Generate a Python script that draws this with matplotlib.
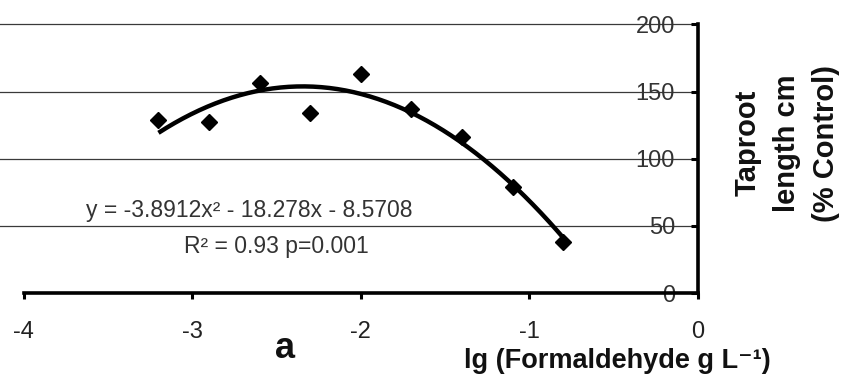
import numpy as np
import matplotlib
matplotlib.use("Agg")
import matplotlib.pyplot as plt

plt.rcParams['font.family'] = ['Liberation Sans', 'DejaVu Sans']

# Data
log_conc = [-3.2, -2.9, -2.6, -2.3, -2.0, -1.7, -1.4, -1.1, -0.8]
taproot_pct = [129, 127, 156, 134, 163, 137, 116, 79, 38]
x_ticks = [-4, -3, -2, -1, 0]
x_ticklabels = ['-4', '-3', '-2', '-1', '0']
y_ticks = [0, 50, 100, 150, 200]
y_ticklabels = ['0', '50', '100', '150', '200']
equation_text = "y = -3.8912x\u00b2 - 18.278x - 8.5708"
r2_text = "R\u00b2 = 0.93 p=0.001"

W, H = 842, 374
fig = plt.figure(figsize=(W / 100, H / 100), dpi=100)
fig.patch.set_facecolor('white')

def fx(px):
    return px / W

def fy(py):
    return 1 - py / H

ax = fig.add_axes([0, fy(293), fx(698), fy(23) - fy(293)])
ax.set_xlim(-4.14, 0)
ax.set_ylim(0, 201)

# gridlines
for yv in y_ticks[1:]:
    ax.axhline(yv, color='#3a3a3a', lw=0.9, zorder=1)

# quadratic trendline fitted to the data (as in the spreadsheet)
coef = np.polyfit(log_conc, taproot_pct, 2)
xs = np.linspace(min(log_conc), max(log_conc), 200)
ax.plot(xs, np.polyval(coef, xs), color='black', lw=3.2, zorder=3,
        solid_capstyle='butt')
ax.plot(log_conc, taproot_pct, linestyle='none', marker='D', markersize=8.5,
        color='black', zorder=4)

# spines
for s in ['left', 'top']:
    ax.spines[s].set_visible(False)
ax.spines['bottom'].set_linewidth(2.6)
ax.spines['bottom'].set_bounds(-4, 0)
ax.spines['right'].set_linewidth(2.6)
ax.spines['right'].set_bounds(0, 200)

ax.set_xticks(x_ticks)
ax.set_xticklabels(x_ticklabels)
ax.tick_params(axis='x', direction='out', length=4.5, width=2.2,
               pad=15.5, labelsize=17, labelcolor='#222222')

ax.yaxis.tick_right()
ax.set_yticks(y_ticks)
ax.set_yticklabels(y_ticklabels)
ax.tick_params(axis='y', direction='in', length=5, width=2.2,
               pad=-16.5, labelsize=17, labelcolor='#333333')
for tl in ax.get_yticklabels():
    tl.set_horizontalalignment('right')

# texts
fig.text(fx(249), fy(210), equation_text, ha='center', va='center',
         fontsize=16.5, color='#333333')
fig.text(fx(276), fy(246), r2_text, ha='center', va='center',
         fontsize=16.5, color='#333333')
fig.text(fx(285), fy(349), 'a', ha='center', va='center',
         fontsize=26, fontweight='bold', color='#111111')
fig.text(fx(617), fy(361), 'lg (Formaldehyde g L\u207b\u00b9)',
         ha='center', va='center', fontsize=19.5, fontweight='bold',
         color='#111111')
fig.text(fx(787), fy(143), 'Taproot\nlength cm\n(% Control)', rotation=90,
         ha='center', va='center', multialignment='center',
         fontsize=21, fontweight='bold', linespacing=1.5, color='#111111')

fig.savefig('out.png', dpi=100, facecolor='white')
